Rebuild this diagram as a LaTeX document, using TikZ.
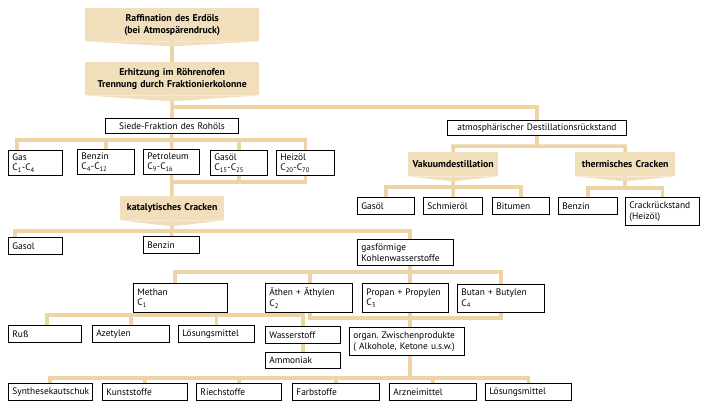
\documentclass[tikz,border=0pt]{standalone}
\usepackage{fontspec}
\setmainfont{PT Sans}
\usetikzlibrary{positioning,backgrounds}
\definecolor{bannerfill}{RGB}{241,222,186}
\definecolor{linkcol}{RGB}{238,212,164}
\newcommand{\bantip}[2]{\fill[bannerfill] (#1.south west) -- (#1.south east) -- ([yshift=-#2]#1.south) -- cycle;}
\newcommand{\Cs}[1]{C\textsubscript{#1}}
\frenchspacing

\begin{document}
\begin{tikzpicture}[x=1pt, y=-1pt, font=\fontsize{9.4}{10.8}\selectfont,
  box/.style={draw, line width=0.85pt, fill=white, anchor=north west, align=left,
              inner xsep=4pt, inner ysep=1pt, text width=#1, minimum height=17pt},
  box2/.style={box=#1, minimum height=25pt},
  banner/.style={fill=bannerfill, anchor=north west, align=center, inner sep=1pt,
                 text width=#1, minimum height=24pt, font=\fontsize{9.8}{12}\selectfont\bfseries},
  link/.style={draw=linkcol, line width=3.5pt}]
  \useasboundingbox (0,0) rectangle (701,401);

  % process banners
  \node[banner=172pt, minimum height=33pt] (raff) at (85,8)
        {Raffination des Erdöls\\(bei Atmospärendruck)};
  \node[banner=172pt, minimum height=33pt] (erh) at (85,62)
        {Erhitzung im Röhrenofen\\Trennung durch Fraktionierkolonne};
  \node[banner=102pt] (kat)   at (120,196) {katalytisches Cracken};
  \node[banner=88pt]  (vak)   at (408,152) {Vakuumdestillation};
  \node[banner=98pt]  (therm) at (575,152) {thermisches Cracken};
  \bantip{raff}{5pt}
  \bantip{erh}{6pt}
  \bantip{kat}{6pt}
  \bantip{vak}{5pt}
  \bantip{therm}{5pt}

  % fractions
  \node[box=125pt, align=center, minimum height=15pt] (siede) at (105,118) {Siede-Fraktion des Rohöls};
  \node[box=171pt, align=center, minimum height=15pt] (atmo)  at (447,120) {atmosphärischer Destillationsrückstand};
  \node[box2=46pt] (gas)     at (8,150)   {Gas\\\Cs{1}-\Cs{4}};
  \node[box2=49pt] (benz1)   at (77,149)  {Benzin\\\Cs{4}-\Cs{12}};
  \node[box2=48pt] (petrol)  at (143,149) {Petroleum\\\Cs{9}-\Cs{16}};
  \node[box2=49pt] (gasoel1) at (210,150) {Gasöl\\\Cs{15}-\Cs{25}};
  \node[box2=50pt] (heiz)    at (276,150) {Heizöl\\\Cs{20}-\Cs{70}};

  % residue products
  \node[box=49pt] (gasoel2) at (357,197) {Gasöl};
  \node[box=51pt] (schmier) at (423,197) {Schmieröl};
  \node[box=49pt] (bitumen) at (492,197) {Bitumen};
  \node[box=51pt] (benz2)   at (558,197) {Benzin};
  \node[box=66pt, minimum height=28pt] (crack) at (625,197) {Crackrückstand\\(Heizöl)};

  % cracking products
  \node[box=46pt] (gasol) at (8,237)   {Gasol};
  \node[box=48pt] (benz3) at (143,236) {Benzin};
  \node[box2=88pt, minimum height=26pt] (gasf) at (357,239) {gasförmige\\Kohlenwasserstoffe};
  \node[box2=86pt, minimum height=29pt] (methan) at (133,283) {Methan\\\Cs{1}};
  \node[box2=79pt, minimum height=29pt] (aethen) at (265,283) {Äthen + Äthylen\\\Cs{2}};
  \node[box2=78pt, minimum height=29pt] (propan) at (362,283) {Propan + Propylen\\\Cs{3}};
  \node[box2=79pt, minimum height=28pt] (butan)  at (457,284) {Butan + Butylen\\\Cs{4}};

  \node[box=65pt] (russ)   at (8,325)   {Ruß};
  \node[box=69pt] (azet)   at (92,325)  {Azetylen};
  \node[box=68pt] (loes1)  at (178,325) {Lösungsmittel};
  \node[box=67pt] (wasser) at (265,326) {Wasserstoff};
  \node[box=67pt, minimum height=16pt] (ammon) at (265,352) {Ammoniak};
  \node[box=107pt, minimum height=28pt] (organ) at (349,327)
        {organ. Zwischenprodukte\\( Alkohole, Ketone u.s.w.)};

  \node[box=76pt] (synth)  at (8,383)   {Synthesekautschuk};
  \node[box=77pt] (kunst)  at (102,383) {Kunststoffe};
  \node[box=77pt] (riech)  at (196,383) {Riechstoffe};
  \node[box=79pt] (farb)   at (292,383) {Farbstoffe};
  \node[box=79pt] (arznei) at (389,383) {Arzneimittel};
  \node[box=78pt] (loes2)  at (485,383) {Lösungsmittel};

  % junctions
  \coordinate (atmoJ) at (172,107);
  \coordinate (busS)  at (17,140);
  \coordinate (busK)  at (172,182);
  \coordinate (busC)  at (15,231);
  \coordinate (gasC)  at (410,231);
  \coordinate (busM)  at (175,272);
  \coordinate (busO)  at (310,318);
  \coordinate (methR) at (175,315);
  \coordinate (busR)  at (47,315);
  \coordinate (busU)  at (50,378);
  \coordinate (busA)  at (453,146);
  \coordinate (busV)  at (386,187);
  \coordinate (busT)  at (588,188);

  \begin{scope}[on background layer]
    \draw[link] (raff) -- (erh);
    \draw[link] (erh) -- (siede);
    \draw[link] (atmoJ) -| (atmo);
    \draw[link] (gas.north -| busS) -- (busS) -| (heiz.south) -- (heiz.south |- busK) -- (busK);
    \draw[link] (benz1.north) -- (benz1.north |- busS);
    \draw[link] (gasoel1.north |- busS) -- (gasoel1.north |- busK);
    \draw[link] (siede) -- (petrol);
    \draw[link] (petrol) -- (kat);
    \draw[link] (kat) -- (benz3);
    \draw[link] (gasol.north -| busC) -- (busC) -- (gasC) -- (gasC |- gasf.north);
    \draw[link] (gasC |- gasf.south) -- (gasC |- organ.north);
    \draw[link] (methan.north -| busM) -- (busM) -- (busM -| butan.north)
                -- (butan.north |- busO) -- (busO) -- (busO |- busM);
    \draw[link] (methan.south -| methR) -- (methR);
    \draw[link] (russ.north -| busR) -- (busR) -| (wasser.north);
    \draw[link] (azet.north) -- (azet.north |- busR);
    \draw[link] (loes1.north) -- (loes1.north |- busR);
    \draw[link] (wasser) -- (ammon);
    \draw[link] (synth.north -| busU) -- (busU) -| (loes2.north);
    \draw[link] (organ.south -| gasC) -- (gasC |- busU);
    \draw[link] (kunst.north) -- (kunst.north |- busU);
    \draw[link] (riech.north) -- (riech.north |- busU);
    \draw[link] (farb.north) -- (farb.north |- busU);
    \draw[link] (arznei.north) -- (arznei.north |- busU);
    % residue branch
    \draw[link] (atmo) -- (atmo.south |- busA);
    \draw[link] (vak) -- (busA) -| (therm);
    \draw[link] (gasoel2.north -| busV) -- (busV) -| (bitumen.north);
    \draw[link] (vak) -- (schmier);
    \draw[link] (benz2.north -| busT) -- (busT) -| (crack.north);
    \draw[link] (therm) -- (therm.south |- busT);
  \end{scope}
\end{tikzpicture}
\end{document}
